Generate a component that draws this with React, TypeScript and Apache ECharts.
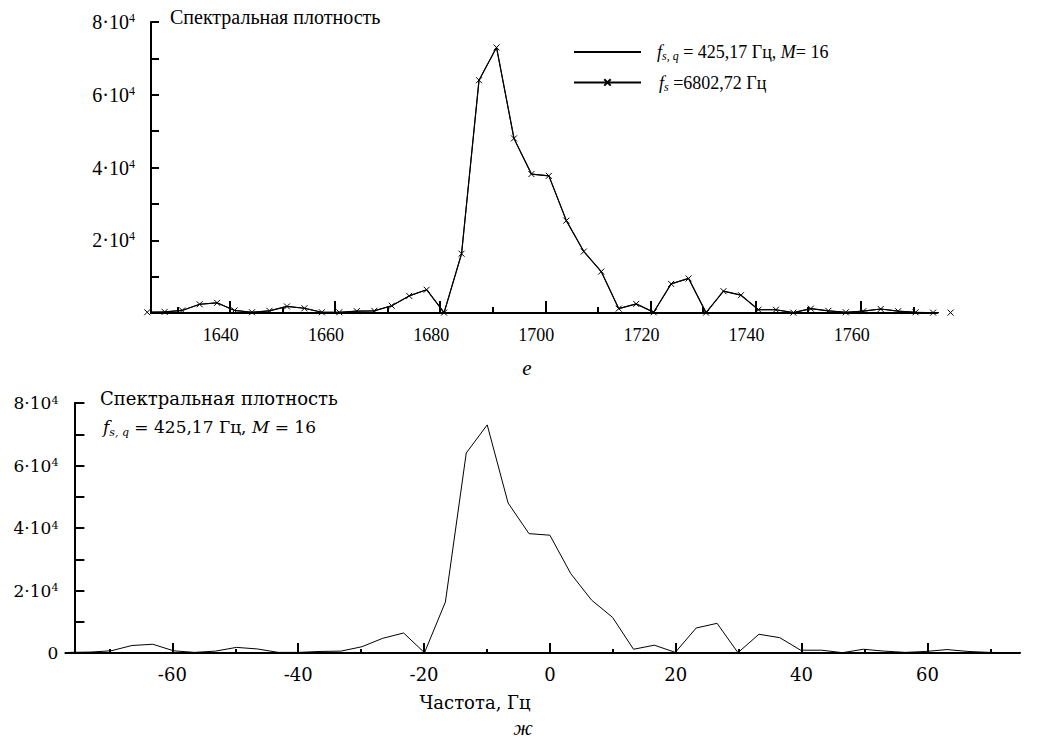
import React, { useEffect, useRef } from "react";
import * as echarts from "echarts";

// Frequency offsets (Hz) of the spectral bins, bottom chart
const offsetHz = [
  -76.4, -73.08, -69.75, -66.43, -63.11, -59.79, -56.47, -53.15, -49.82, -46.5,
  -43.18, -39.86, -36.54, -33.22, -29.89, -26.57, -23.25, -19.93, -16.61, -13.29,
  -9.96, -6.64, -3.32, 0, 3.32, 6.64, 9.96, 13.29, 16.61, 19.93,
  23.25, 26.57, 29.89, 33.22, 36.54, 39.86, 43.18, 46.5, 49.82, 53.15,
  56.47, 59.79, 63.11, 66.43, 69.75, 73.08, 76.4,
];
// Absolute frequencies (Hz) of the same bins, top chart
const topFreqHz = [
  1624.28, 1627.6, 1630.93, 1634.25, 1637.57, 1640.89, 1644.21, 1647.53, 1650.86, 1654.18,
  1657.5, 1660.82, 1664.14, 1667.46, 1670.79, 1674.11, 1677.43, 1680.75, 1684.07, 1687.39,
  1690.72, 1694.04, 1697.36, 1700.68, 1704.0, 1707.32, 1710.64, 1713.97, 1717.29, 1720.61,
  1723.93, 1727.25, 1730.57, 1733.89, 1737.22, 1740.54, 1743.86, 1747.18, 1750.5, 1753.83,
  1757.15, 1760.47, 1763.79, 1767.11, 1770.43, 1773.76, 1777.08,
];
// Spectral density values
const density = [
  200, 300, 700, 2400, 2800, 700, 200, 600, 1800, 1300,
  200, 200, 500, 600, 2000, 4700, 6400, 100, 16300, 64000,
  73000, 48000, 38200, 37700, 25400, 16900, 11400, 1200, 2500, 200,
  8000, 9500, 100, 6000, 4900, 900, 900, 100, 1200, 600,
  200, 500, 1100, 500, 200, 100, 100,
];

const topXMajor = [1640, 1660, 1680, 1700, 1720, 1740, 1760];
const topXMinor = [1630, 1650, 1670, 1690, 1710, 1730, 1750, 1770];
const bottomXMajor = [-60, -40, -20, 0, 20, 40, 60];
const bottomXMinor = [-70, -50, -30, -10, 10, 30, 50, 70];
const topYLabels = [20000, 40000, 60000, 80000];
const bottomYLabels = [0, 20000, 40000, 60000, 80000];

const FONT = "Liberation Serif, serif";
const FONT2 = "DejaVu Serif, serif";

const powLabel = (v: number) =>
  v === 0 ? "{n|0}" : `{n|${v / 10000}·10}{s|4}`;

const powRichTop = {
  n: { fontSize: 20, fontFamily: FONT, color: "#000", verticalAlign: "top" },
  s: { fontSize: 12, fontFamily: FONT, color: "#000", verticalAlign: "top" },
};
const powRichBottom = {
  n: { fontSize: 17, fontFamily: FONT2, color: "#000", verticalAlign: "top" },
  s: { fontSize: 11, fontFamily: FONT2, color: "#000", verticalAlign: "top" },
};

const legRich = {
  i: { fontSize: 18, fontFamily: FONT, fontStyle: "italic", fill: "#000", verticalAlign: "top" },
  sub: { fontSize: 12, fontFamily: FONT, fontStyle: "italic", fill: "#000", verticalAlign: "top", padding: [7, 0, 0, 0] },
  n: { fontSize: 18, fontFamily: FONT, fill: "#000", verticalAlign: "top" },
};
const subRich = {
  i: { fontSize: 17, fontFamily: FONT2, fontStyle: "italic", fill: "#000", verticalAlign: "top" },
  sub: { fontSize: 11, fontFamily: FONT2, fontStyle: "italic", fill: "#000", verticalAlign: "top", padding: [8, 0, 0, 0] },
  n: { fontSize: 17, fontFamily: FONT2, fill: "#000", verticalAlign: "top" },
};

const crossSymbol = "path://M0,0L10,10M10,0L0,10";

export default function App() {
  const ref = useRef<HTMLDivElement>(null);
  useEffect(() => {
    if (!ref.current) return;
    const chart = echarts.init(ref.current, undefined, { renderer: "svg" });
    const topData = topFreqHz.map((f, i) => [f, density[i]]);
    const botData = offsetHz.map((f, i) => [f, density[i]]);
    const axisLine = { show: true, onZero: false, lineStyle: { color: "#000", width: 2 } };
    chart.setOption({
      animation: false,
      backgroundColor: "#fff",
      grid: [
        { left: 151, top: 22, width: 786, height: 291 },
        { left: 65.4, top: 403, width: 954.5, height: 250 },
      ],
      xAxis: [
        {
          type: "value", gridIndex: 0, min: 1625, max: 1774.5, position: "bottom",
          axisLine, splitLine: { show: false },
          axisTick: { show: true, inside: true, length: 12, customValues: topXMajor, lineStyle: { color: "#000", width: 2 } },
          axisLabel: {
            customValues: topXMajor, margin: 13,
            formatter: (v: number) => `{a|${v}}`,
            rich: { a: { fontSize: 18, fontFamily: FONT, color: "#000", padding: [0, 18, 0, 0] } },
          },
        },
        {
          type: "value", gridIndex: 0, min: 1625, max: 1774.5, position: "bottom",
          axisLine: { show: false, onZero: false }, splitLine: { show: false },
          axisTick: { show: true, inside: true, length: 6, customValues: topXMinor, lineStyle: { color: "#000", width: 2 } },
          axisLabel: { show: false },
        },
        {
          type: "value", gridIndex: 1, min: -77, max: 74.7, position: "bottom",
          axisLine, splitLine: { show: false },
          axisTick: { show: true, inside: true, length: 10, customValues: bottomXMajor, lineStyle: { color: "#000", width: 2 } },
          axisLabel: { customValues: bottomXMajor, margin: 12, fontSize: 18, fontFamily: FONT2, color: "#000" },
        },
        {
          type: "value", gridIndex: 1, min: -77, max: 74.7, position: "bottom",
          axisLine: { show: false, onZero: false }, splitLine: { show: false },
          axisTick: { show: true, inside: true, length: 4, customValues: bottomXMinor, lineStyle: { color: "#000", width: 2 } },
          axisLabel: { show: false },
        },
      ],
      yAxis: [
        {
          type: "value", gridIndex: 0, min: 0, max: 80000, interval: 10000, position: "left",
          axisLine, splitLine: { show: false },
          axisTick: { show: true, inside: true, length: 8, lineStyle: { color: "#000", width: 2 } },
          axisLabel: { customValues: topYLabels, margin: 16, formatter: powLabel, rich: powRichTop },
        },
        {
          type: "value", gridIndex: 1, min: 0, max: 80000, interval: 10000, offset: -9, position: "left",
          axisLine, splitLine: { show: false },
          axisTick: { show: true, inside: true, length: 10, lineStyle: { color: "#000", width: 2 } },
          axisLabel: { customValues: bottomYLabels, margin: 16, formatter: powLabel, rich: powRichBottom },
        },
      ],
      legend: {
        left: 573, top: 48, padding: 0, orient: "vertical", itemWidth: 67, itemHeight: 8, itemGap: 23,
        data: ["fsq", "fs"],
        formatter: () => "",
      },
      series: [
        {
          name: "fsq", type: "line", xAxisIndex: 0, yAxisIndex: 0, data: topData,
          symbol: "none", clip: false, lineStyle: { color: "#000", width: 1 },
          itemStyle: { color: "rgba(0,0,0,0)", borderColor: "rgba(0,0,0,0)" },
        },
        {
          name: "fs", type: "line", xAxisIndex: 0, yAxisIndex: 0, data: topData,
          symbol: crossSymbol, symbolSize: 6, clip: false,
          lineStyle: { color: "#000", width: 1.2 },
          itemStyle: { color: "#000", borderColor: "#000", borderWidth: 1 },
        },
        {
          name: "fsqBottom", type: "line", xAxisIndex: 2, yAxisIndex: 1, data: botData,
          symbol: "none", clip: false, lineStyle: { color: "#000", width: 1 },
        },
      ],
      graphic: [
        { type: "text", x: 170, y: 17, style: { text: "Спектральная плотность", fontSize: 20, fontFamily: FONT, fill: "#000", align: "left", verticalAlign: "middle" } },
        {
          type: "text", x: 657, y: 52,
          style: { text: "{i|f}{sub|s, q}{n| = 425,17 Гц, }{i|M}{n|= 16}", rich: legRich, align: "left", verticalAlign: "middle" },
        },
        {
          type: "text", x: 659, y: 83,
          style: { text: "{i|f}{sub|s}{n| =6802,72 Гц}", rich: legRich, align: "left", verticalAlign: "middle" },
        },
        { type: "text", x: 527, y: 368, style: { text: "е", fontSize: 21, fontFamily: FONT, fontStyle: "italic", fill: "#000", align: "center", verticalAlign: "middle" } },
        { type: "text", x: 100, y: 398, style: { text: "Спектральная плотность", fontSize: 18, fontFamily: FONT2, fill: "#000", align: "left", verticalAlign: "middle" } },
        {
          type: "text", x: 103, y: 428,
          style: {
            text: "{i|f}{sub|s, q}{n| = 425,17 Гц, }{i|M}{n| = 16}",
            rich: subRich, align: "left", verticalAlign: "middle",
          },
        },
        { type: "text", x: 475, y: 702, style: { text: "Частота, Гц", fontSize: 18, fontFamily: FONT2, fill: "#000", align: "center", verticalAlign: "middle" } },
        { type: "text", x: 523, y: 728, style: { text: "ж", fontSize: 21, fontFamily: FONT, fontStyle: "italic", fill: "#000", align: "center", verticalAlign: "middle" } },
      ],
    });
    return () => chart.dispose();
  }, []);
  return (
    <div
      ref={ref}
      style={{ position: "fixed", left: 0, top: 0, width: 1041, height: 740, background: "#fff" }}
    />
  );
}
